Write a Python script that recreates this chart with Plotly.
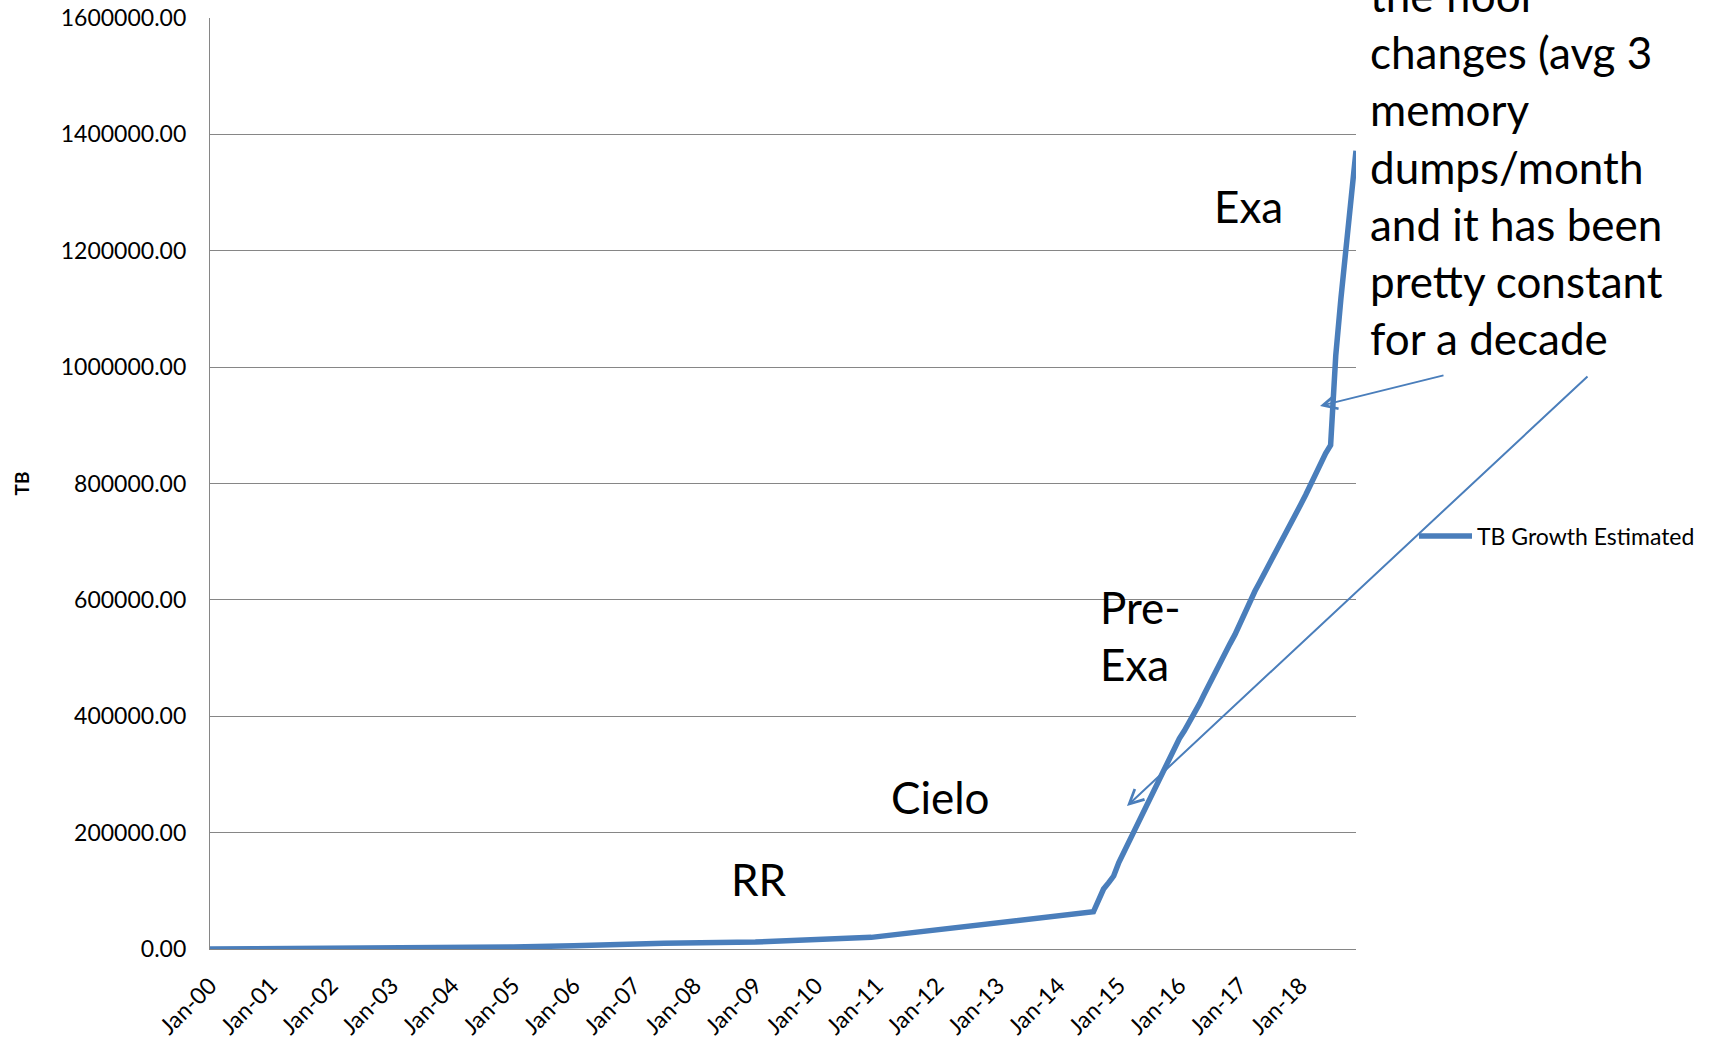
import plotly.graph_objects as go

# Storage growth estimate (TB), monthly where the curve is steep
months = [
    "2000-01-01", "2002-01-01", "2004-01-01", "2005-01-01", "2006-01-01",
    "2007-01-01", "2007-07-01", "2009-01-01", "2010-01-01", "2010-12-01",
    "2014-08-01", "2014-09-01", "2014-10-01", "2014-11-01", "2014-12-01",
    "2015-01-01", "2015-02-01", "2015-03-01", "2015-04-01", "2015-05-01",
    "2015-06-01", "2015-07-01", "2015-08-01", "2015-09-01", "2015-10-01",
    "2015-11-01", "2015-12-01", "2016-01-01", "2016-02-01", "2016-03-01",
    "2016-04-01", "2016-05-01", "2016-06-01", "2016-07-01", "2016-08-01",
    "2016-09-01", "2016-10-01", "2016-11-01", "2016-12-01", "2017-01-01",
    "2017-02-01", "2017-03-01", "2017-04-01", "2017-05-01", "2017-06-01",
    "2017-07-01", "2017-08-01", "2017-09-01", "2017-10-01", "2017-11-01",
    "2017-12-01", "2018-01-01", "2018-02-01", "2018-03-01", "2018-04-01",
    "2018-05-01", "2018-06-01", "2018-07-01", "2018-08-01", "2018-09-01",
    "2018-10-01", "2018-11-01", "2018-12-01",
]
tb_growth = [
    0, 600, 2000, 3500, 5500,
    8500, 10000, 12000, 15500, 20000,
    64000, 82600, 103000, 114000, 125400,
    148600, 167000, 184700, 202000, 218600,
    236400, 255500, 274400, 293300, 311200,
    328900, 346400, 361700, 375300, 388900,
    403800, 421300, 439000, 456700, 473900,
    491100, 508100, 524400, 540200, 560800,
    581600, 599100, 615100, 631300, 647400,
    664300, 681500, 698800, 715300, 730900,
    747100, 763400, 780600, 798000, 815800,
    833800, 851900, 866000, 1020000, 1118000,
    1210000, 1295000, 1372000,
]
series_name = "TB Growth Estimated"

# Era labels and the note on the right
era_labels = ["RR", "Cielo", "Pre-<br>Exa", "Exa"]
note_lines = [
    "the floor",
    "changes (avg 3",
    "memory",
    "dumps/month",
    "and it has been",
    "pretty constant",
    "for a decade",
]

y_ticks = list(range(0, 1600001, 200000))

W, H = 1725, 1046
L, R, T, B = 210, 1356, 18, 949          # plot area in page pixels
PW, PH = R - L, B - T

def px(xp):
    return (xp - L) / PW

def py(yp):
    return (B - yp) / PH

BLUE = "#4A7EBB"
GRID = "#868686"
FONT = "Lato"

fig = go.Figure()
fig.add_trace(go.Scatter(
    x=months, y=tb_growth, mode="lines", name=series_name,
    line=dict(color=BLUE, width=5.5, shape="linear"),
    hoverinfo="skip",
))

annotations = []
# era labels: (left x, text centre y) in page pixels
era_pos = [(729, 879), (889, 797), (1098, 635), (1212, 206)]
for text, (xp, yp) in zip(era_labels, era_pos):
    annotations.append(dict(
        text=text, x=px(xp), y=py(yp), xref="paper", yref="paper",
        xanchor="left", yanchor="middle", align="left", showarrow=False,
        font=dict(family=FONT, size=44, color="black"),
    ))

annotations.append(dict(
    text="<br>".join(note_lines), x=px(1368), y=py(167), xref="paper", yref="paper",
    xanchor="left", yanchor="middle", align="left", showarrow=False,
    font=dict(family=FONT, size=44, color="black"),
))

# callout arrows (tip position, tail offset in px)
arrows = [((1320, 406), (125, -31)), ((1127, 806), (462, -431))]
for (tx, ty), (ax, ay) in arrows:
    annotations.append(dict(
        text="", x=px(tx), y=py(ty), xref="paper", yref="paper",
        ax=ax, ay=ay, axref="pixel", ayref="pixel",
        showarrow=True, arrowhead=5, arrowsize=1.4, arrowwidth=2,
        arrowcolor=BLUE, standoff=0,
    ))

fig.update_layout(
    width=W, height=H,
    margin=dict(l=L, r=W - R, t=T, b=H - B, autoexpand=False),
    paper_bgcolor="white", plot_bgcolor="white",
    font=dict(family=FONT, color="black"),
    showlegend=True,
    legend=dict(
        x=px(1414), y=py(536), xanchor="left", yanchor="middle",
        bgcolor="rgba(0,0,0,0)", borderwidth=0, itemwidth=53,
        font=dict(family=FONT, size=23, color="black"),
    ),
    annotations=annotations,
)

fig.update_xaxes(
    type="date", range=["2000-01-01", "2018-12-01"],
    tickmode="array",
    tickvals=[f"{y}-01-01" for y in range(2000, 2019)],
    tickformat="%b-%y", tickangle=-45,
    tickfont=dict(family=FONT, size=23, color="black"),
    showgrid=False, showline=True, linecolor=GRID, linewidth=1.3,
    ticks="", ticklabelstandoff=13, zeroline=False,
)
fig.update_yaxes(
    range=[0, 1600000], tickvals=y_ticks, tickformat=".2f",
    tickfont=dict(family=FONT, size=23, color="black"),
    showgrid=True, gridcolor=GRID, gridwidth=1.3,
    showline=True, linecolor=GRID, linewidth=1.3,
    ticks="", ticklabelstandoff=18, zeroline=False,
    title=dict(text="<b>TB</b>", standoff=26,
               font=dict(family=FONT, size=19, color="black")),
)

fig.write_html("out.html")
